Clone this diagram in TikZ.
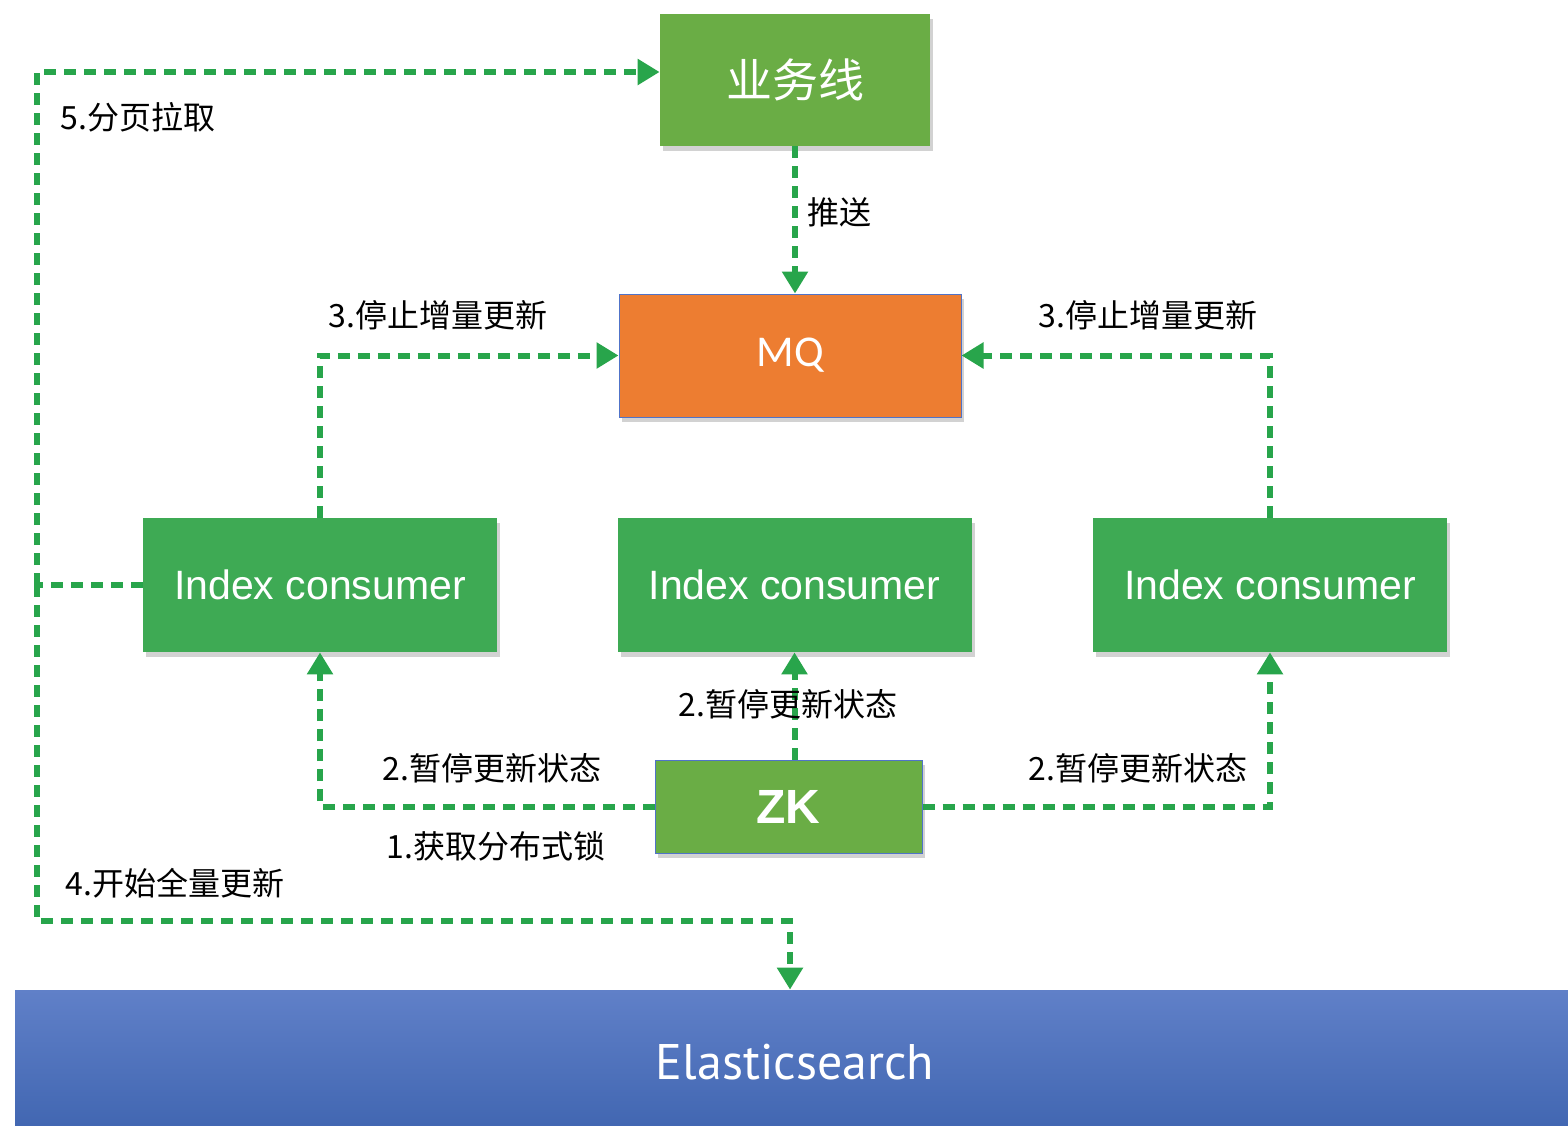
\documentclass[tikz,border=0pt]{standalone}
\usepackage{fontspec}
\setmainfont{Noto Sans CJK SC}
\newfontfamily\helv{Liberation Sans}
\newfontfamily\mqfont{Carlito}
\newfontfamily\esfont{PT Sans}
\usetikzlibrary{arrows.meta,shadows}
\definecolor{dgreen}{RGB}{40,165,75}
\definecolor{icgreen}{RGB}{62,170,84}
\definecolor{lgreen}{RGB}{106,173,69}
\definecolor{mqorange}{RGB}{237,125,49}
\definecolor{bordblue}{RGB}{80,115,200}
\definecolor{estop}{RGB}{96,128,200}
\definecolor{esbot}{RGB}{66,103,178}
\tikzset{
  boxshadow/.style={drop shadow={opacity=0.35,shadow xshift=1.5pt,shadow yshift=-2.5pt}},
  icbox/.style={fill=icgreen,boxshadow,minimum width=177pt,minimum height=67pt,inner sep=0pt,text=white,font=\helv\fontsize{20.5}{24}\selectfont},
  bizbox/.style={fill=lgreen,boxshadow,minimum width=135pt,minimum height=66pt,inner sep=0pt,text=white,font=\fontsize{23}{26}\selectfont},
  zkbox/.style={fill=lgreen,draw=bordblue,line width=0.5pt,boxshadow,minimum width=133.5pt,minimum height=46.5pt,inner sep=0pt,text=white,font=\helv\bfseries\fontsize{24}{27}\selectfont},
  mqbox/.style={fill=mqorange,draw=bordblue,line width=0.5pt,boxshadow,minimum width=171pt,minimum height=61.5pt,inner sep=0pt,text=white,font=\mqfont\fontsize{22}{25}\selectfont},
  esbox/.style={top color=estop,bottom color=esbot,minimum width=776.5pt,minimum height=67.5pt,inner sep=0pt},
  conn/.style={draw=dgreen,line width=3pt,dash pattern=on 6pt off 4pt},
  arr/.style={conn,-{Triangle[length=11pt,width=12.5pt,fill=dgreen]}},
  lbl/.style={font=\fontsize{16}{19}\selectfont,text=black,inner sep=0pt}
}
\begin{document}
\begin{tikzpicture}[x=0.5pt,y=-0.5pt]
\useasboundingbox[fill=white] (0,0) rectangle (1568,1125);
% nodes
\node[bizbox] (biz) at (795,80) {业务线};
\node[mqbox] (mq) at (790,355.5) {\raisebox{-2pt}{MQ}};
\node[icbox] (ic1) at (320,585) {Index consumer};
\node[icbox] (ic2) at (794.5,585) {Index consumer};
\node[icbox] (ic3) at (1270,585) {Index consumer};
\node[zkbox] (zk) at (788.5,806.5) {ZK};
\node[esbox] (es) at (791.5,1057.5) {};
\node[text=white,font=\esfont\fontsize{25}{28}\selectfont] (estext) at (795,1062) {Elasticsearch};
% coordinates
\coordinate (top) at (37,72);
\coordinate (bot) at (37,921);
\coordinate (esin) at (790,921);
% connectors
\draw[arr] (biz.south) -- (biz.south |- mq.north);
\draw[arr] (ic1.north) |- (mq.west);
\draw[arr] (ic3.north) |- (mq.east);
\draw[arr] (zk.west) -| (ic1.south);
\draw[arr] (ic2.south |- zk.north) -- (ic2.south);
\draw[arr] (zk.east) -| (ic3.south);
\draw[conn] (ic1.west) -- (ic1.west -| top);
\draw[arr] (ic1.west -| top) -- (top) -- (top -| biz.west);
\draw[arr] (ic1.west -| top) -- (bot) -- (esin) -- (esin |- es.north);
% labels
\node[lbl] (l5) at (138,117) {5.分页拉取};
\node[lbl] (lts) at (839,212) {推送};
\node[lbl] (l3a) at (438,315) {3.停止增量更新};
\node[lbl] (l3b) at (1148,315) {3.停止增量更新};
\node[lbl] (l2m) at (788,704) {2.暂停更新状态};
\node[lbl] (l2a) at (492,768) {2.暂停更新状态};
\node[lbl] (l2b) at (1138,768) {2.暂停更新状态};
\node[lbl] (l1) at (496,846) {1.获取分布式锁};
\node[lbl] (l4) at (175,883) {4.开始全量更新};
\end{tikzpicture}
\end{document}
